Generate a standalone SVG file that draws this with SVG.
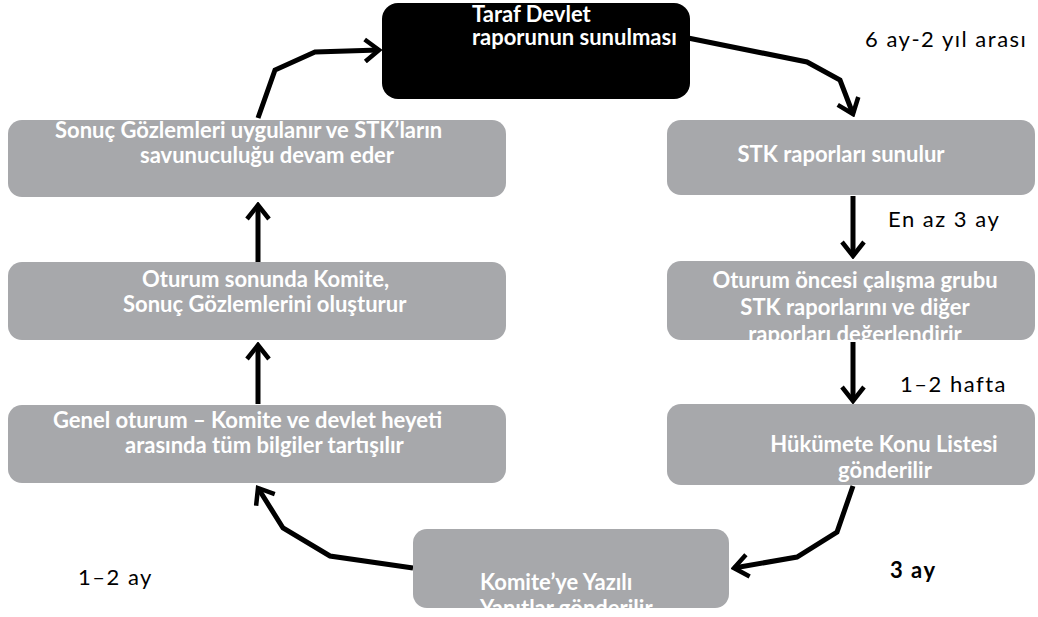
<svg xmlns="http://www.w3.org/2000/svg" width="1038" height="617" viewBox="0 0 1038 617">
<style>
.box{fill:#a7a8ab}
.dark{fill:#000}
.bt{font-family:Lato,"Liberation Sans",sans-serif;font-weight:bold;fill:#fff;font-size:22px}
.lbl{font-family:Lato,"Liberation Sans",sans-serif;fill:#000;font-size:22px;letter-spacing:1.5px}
.con{fill:none;stroke:#000;stroke-width:5;stroke-linejoin:miter}
</style>
<defs>
<marker id="ah" viewBox="0 0 20 26" refX="17" refY="13" markerWidth="20" markerHeight="26" markerUnits="userSpaceOnUse" orient="auto">
<path d="M3,2 L17,13 L3,24" fill="none" stroke="#000" stroke-width="4.5"/>
</marker>
</defs>
<rect width="1038" height="617" fill="#fff"/>
<g id="connectors">
<path class="con" d="M688,38 L807,62 L840,80 L853,114" marker-end="url(#ah)"/>
<path class="con" d="M853,196 L853,256" marker-end="url(#ah)"/>
<path class="con" d="M853,342 L853,401" marker-end="url(#ah)"/>
<path class="con" d="M853,486 L837,532 L797,557 L734,568" marker-end="url(#ah)"/>
<path class="con" d="M413,568 L330,556 L283,528 L258,488" marker-end="url(#ah)"/>
<path class="con" d="M258,404 L258,345" marker-end="url(#ah)"/>
<path class="con" d="M258,262 L258,205" marker-end="url(#ah)"/>
<path class="con" d="M258,118 L275,70 L315,52 L379,50" marker-end="url(#ah)"/>
</g>
<g id="n-taraf">
<rect class="dark" x="382" y="3" width="308" height="96" rx="16"/>
<text class="bt" x="472" y="22" font-size="20">Taraf Devlet</text>
<text class="bt" x="472" y="45" font-size="20">raporunun sunulması</text>
</g>
<g id="n-stk">
<rect class="box" x="667" y="120" width="368" height="75" rx="14"/>
<text class="bt" x="841" y="162" text-anchor="middle" font-size="23">STK raporları sunulur</text>
</g>
<g id="n-oturum-oncesi">
<rect class="box" x="667" y="261" width="368" height="79" rx="14"/>
<text class="bt" x="855" y="288" text-anchor="middle">Oturum öncesi çalışma grubu</text>
<text class="bt" x="855" y="315" text-anchor="middle">STK raporlarını ve diğer</text>
<text class="bt" x="855" y="342" text-anchor="middle">raporları değerlendirir</text>
</g>
<g id="n-hukumete">
<rect class="box" x="667" y="404" width="368" height="81" rx="14"/>
<text class="bt" x="884" y="452" text-anchor="middle">Hükümete Konu Listesi</text>
<text class="bt" x="885" y="478" text-anchor="middle">gönderilir</text>
</g>
<g id="n-yazili">
<rect class="box" x="413" y="529" width="316" height="79" rx="14"/>
<text class="bt" x="480" y="590">Komite’ye Yazılı</text>
<text class="bt" x="480" y="616">Yanıtlar gönderilir</text>
</g>
<g id="n-genel">
<rect class="box" x="8" y="405" width="498" height="78" rx="14"/>
<text class="bt" x="53" y="428">Genel oturum – Komite ve devlet heyeti</text>
<text class="bt" x="125" y="453">arasında tüm bilgiler tartışılır</text>
</g>
<g id="n-oturum-sonunda">
<rect class="box" x="8" y="262" width="498" height="78" rx="14"/>
<text class="bt" x="142" y="287">Oturum sonunda Komite,</text>
<text class="bt" x="123" y="312">Sonuç Gözlemlerini oluşturur</text>
</g>
<g id="n-sonuc">
<rect class="box" x="8" y="120" width="498" height="77" rx="14"/>
<text class="bt" x="55" y="138" font-size="18.5">Sonuç Gözlemleri uygulanır ve STK’ların</text>
<text class="bt" x="140" y="163" font-size="18.5">savunuculuğu devam eder</text>
</g>
<g id="labels">
<text class="lbl" x="865" y="47">6 ay-2 yıl arası</text>
<text class="lbl" x="888" y="227" letter-spacing="2.5">En az 3 ay</text>
<text class="lbl" x="900" y="392" letter-spacing="3">1–2 hafta</text>
<text class="lbl" x="890" y="578" font-weight="bold" letter-spacing="0">3 ay</text>
<text class="lbl" x="78" y="585" letter-spacing="3">1–2 ay</text>
</g>
</svg>
